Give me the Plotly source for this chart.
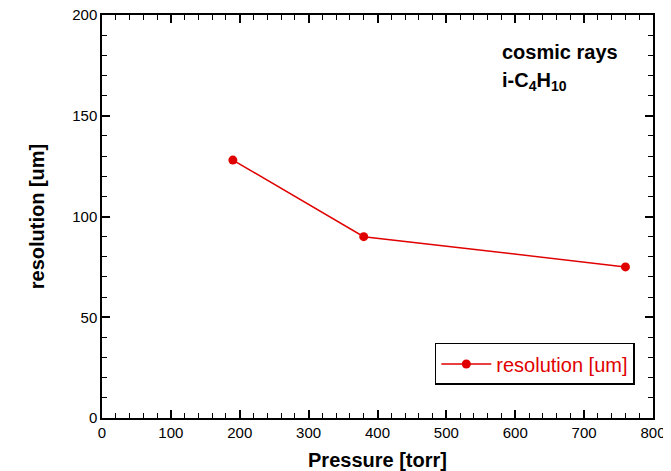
import plotly.graph_objects as go

pressure = [190, 380, 760]
resolution = [128, 90, 75]
series_name = "resolution [um]"

fig = go.Figure()
fig.add_trace(go.Scatter(
    x=pressure, y=resolution, mode="lines+markers", name=series_name,
    line=dict(color="#e00000", width=1.5),
    marker=dict(color="#e00000", size=9),
))

font_family = "Liberation Sans, Arial, sans-serif"
axis_common = dict(
    showline=True, linecolor="black", linewidth=1.5, mirror="allticks",
    ticks="inside", ticklen=8, tickwidth=1.5, tickcolor="black",
    showgrid=False, zeroline=False, automargin=False, ticklabeloverflow="allow",
    tickfont=dict(size=15, color="black", family=font_family),
)
fig.update_xaxes(
    range=[0, 800], dtick=100, tick0=0,
    minor=dict(ticks="inside", dtick=20, tick0=0, ticklen=5, tickwidth=1.2, tickcolor="black", showgrid=False),
    title=dict(text="<b>Pressure [torr]</b>", font=dict(size=20, color="black", family=font_family), standoff=14),
    **axis_common,
)
fig.update_yaxes(
    range=[0, 200], dtick=50, tick0=0,
    minor=dict(ticks="inside", dtick=10, tick0=0, ticklen=5, tickwidth=1.2, tickcolor="black", showgrid=False),
    title=dict(text="<b>resolution [um]</b>", font=dict(size=20, color="black", family=font_family), standoff=22),
    **axis_common,
)

fig.add_annotation(
    x=0.94, y=0.908, xref="paper", yref="paper", xanchor="right", yanchor="middle",
    text="<b>cosmic rays</b>", showarrow=False,
    font=dict(size=20, color="black", family=font_family),
)
fig.add_annotation(
    x=0.722, y=0.834, xref="paper", yref="paper", xanchor="left", yanchor="middle",
    text="<b>i-C<sub>4</sub>H<sub>10</sub></b>", showarrow=False,
    font=dict(size=20, color="black", family=font_family),
)

fig.update_layout(
    width=663, height=463,
    margin=dict(l=94, r=18, t=7, b=53, autoexpand=False),
    plot_bgcolor="white", paper_bgcolor="white",
    font=dict(family=font_family, color="black"),
    showlegend=True,
    legend=dict(
        x=0.967, y=0.082, xanchor="right", yanchor="bottom",
        bordercolor="black", borderwidth=1.5, bgcolor="white",
        font=dict(size=20, color="#e00000", family=font_family),
        itemwidth=50,
    ),
)

fig.write_html("out.html")
